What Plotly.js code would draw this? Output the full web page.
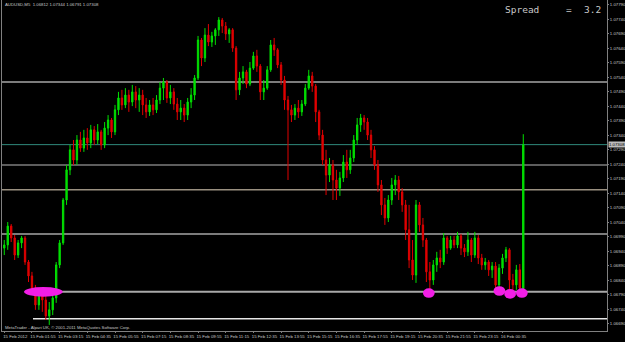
<!DOCTYPE html>
<html><head><meta charset="utf-8">
<script src="https://cdn.plot.ly/plotly-3.0.1.min.js"></script>
<style>html,body{margin:0;padding:0;background:#000;}#chart{width:625px;height:342px;}</style>
</head><body><div id="chart"></div>
<script>
// AUDUSD M5 (rendered as 10-minute steps), 15 Feb 2012 00:35 -> 16 Feb 2012 01:35
const open = [
1.06951,1.06962,1.07027,1.06986,1.06927,1.06969,1.06986,1.06903,1.06855,1.06813,
1.06755,1.06793,1.06772,1.06717,1.06738,1.06779,1.06893,1.06969,1.07117,1.07221,
1.07290,1.07255,1.07324,1.07296,1.07331,1.07314,1.07359,1.07324,1.07352,1.07307,
1.07365,1.07393,1.07352,1.07428,1.07469,1.07445,1.07479,1.07455,1.07490,1.07462,
1.07479,1.07445,1.07421,1.07445,1.07428,1.07462,1.07503,1.07524,1.07469,1.07490,
1.07448,1.07421,1.07434,1.07410,1.07455,1.07479,1.07538,1.07669,1.07607,1.07686,
1.07662,1.07683,1.07704,1.07738,1.07717,1.07690,1.07704,1.07641,1.07497,1.07538,
1.07559,1.07517,1.07572,1.07614,1.07579,1.07490,1.07503,1.07566,1.07652,1.07635,
1.07583,1.07531,1.07462,1.07428,1.07410,1.07434,1.07421,1.07448,1.07503,1.07545,
1.07510,1.07421,1.07341,1.07255,1.07203,1.07238,1.07186,1.07158,1.07193,1.07248,
1.07221,1.07262,1.07324,1.07376,1.07400,1.07386,1.07341,1.07290,1.07238,1.07169,
1.07100,1.07055,1.07117,1.07169,1.07186,1.07145,1.07100,1.07014,1.06910,1.06858,
1.07100,1.07031,1.06979,1.06869,1.06841,1.06893,1.06917,1.06903,1.06986,1.06951,
1.06979,1.06962,1.06993,1.06951,1.06938,1.06979,1.06927,1.06986,1.06917,1.06893,
1.06903,1.06876,1.06889,1.06824,1.06882,1.06917,1.06945,1.06841,1.06824,1.06876,
1.06812];
const high = [
1.06979,1.07041,1.07034,1.06996,1.06979,1.06993,1.06993,1.06910,1.06869,1.06824,
1.06807,1.06800,1.06786,1.06765,1.06789,1.06903,1.06979,1.07124,1.07238,1.07307,
1.07324,1.07341,1.07352,1.07359,1.07365,1.07376,1.07372,1.07379,1.07359,1.07386,
1.07410,1.07400,1.07445,1.07490,1.07497,1.07503,1.07497,1.07514,1.07510,1.07503,
1.07497,1.07469,1.07462,1.07469,1.07479,1.07524,1.07538,1.07531,1.07514,1.07503,
1.07469,1.07462,1.07448,1.07469,1.07503,1.07548,1.07683,1.07676,1.07710,1.07724,
1.07697,1.07710,1.07748,1.07745,1.07731,1.07710,1.07710,1.07648,1.07559,1.07579,
1.07566,1.07593,1.07628,1.07635,1.07586,1.07531,1.07579,1.07669,1.07676,1.07641,
1.07593,1.07545,1.07476,1.07445,1.07448,1.07462,1.07462,1.07517,1.07566,1.07559,
1.07517,1.07428,1.07359,1.07290,1.07262,1.07255,1.07221,1.07214,1.07272,1.07290,
1.07290,1.07341,1.07400,1.07414,1.07410,1.07400,1.07359,1.07303,1.07255,1.07186,
1.07124,1.07134,1.07193,1.07203,1.07200,1.07158,1.07117,1.07100,1.06979,1.07117,
1.07110,1.07055,1.06986,1.06903,1.06910,1.06938,1.06945,1.07003,1.06993,1.06993,
1.06993,1.07007,1.07000,1.06965,1.07007,1.06986,1.07007,1.06996,1.06931,1.06917,
1.06910,1.06903,1.06903,1.06896,1.06931,1.06955,1.06951,1.06862,1.06893,1.06896,
1.07344];
const low = [
1.06927,1.06945,1.06972,1.06910,1.06917,1.06951,1.06893,1.06834,1.06800,1.06738,
1.06738,1.06731,1.06703,1.06686,1.06720,1.06762,1.06882,1.06962,1.07100,1.07203,
1.07238,1.07238,1.07283,1.07283,1.07290,1.07296,1.07307,1.07310,1.07290,1.07296,
1.07341,1.07331,1.07341,1.07410,1.07428,1.07434,1.07421,1.07441,1.07434,1.07421,
1.07410,1.07400,1.07407,1.07410,1.07417,1.07448,1.07462,1.07452,1.07448,1.07428,
1.07393,1.07393,1.07386,1.07393,1.07434,1.07462,1.07531,1.07579,1.07593,1.07648,
1.07645,1.07652,1.07683,1.07693,1.07669,1.07659,1.07628,1.07462,1.07479,1.07517,
1.07503,1.07510,1.07566,1.07559,1.07462,1.07462,1.07497,1.07559,1.07614,1.07572,
1.07514,1.07428,1.07186,1.07386,1.07393,1.07400,1.07407,1.07441,1.07497,1.07490,
1.07386,1.07324,1.07238,1.07134,1.07179,1.07117,1.07117,1.07131,1.07179,1.07193,
1.07207,1.07248,1.07307,1.07352,1.07359,1.07324,1.07262,1.07221,1.07145,1.07065,
1.07031,1.07041,1.07100,1.07134,1.07117,1.07076,1.06979,1.06882,1.06841,1.06831,
1.07007,1.06955,1.06834,1.06800,1.06824,1.06869,1.06882,1.06893,1.06931,1.06945,
1.06951,1.06951,1.06927,1.06920,1.06924,1.06903,1.06917,1.06896,1.06876,1.06876,
1.06855,1.06848,1.06807,1.06807,1.06862,1.06903,1.06800,1.06789,1.06807,1.06800,
1.06791];
const close = [
1.06962,1.07027,1.06986,1.06927,1.06969,1.06986,1.06903,1.06855,1.06813,1.06755,
1.06793,1.06772,1.06717,1.06738,1.06779,1.06893,1.06969,1.07117,1.07221,1.07290,
1.07255,1.07324,1.07296,1.07331,1.07314,1.07359,1.07324,1.07352,1.07307,1.07365,
1.07393,1.07352,1.07428,1.07469,1.07445,1.07479,1.07455,1.07490,1.07462,1.07479,
1.07445,1.07421,1.07445,1.07428,1.07462,1.07503,1.07524,1.07469,1.07490,1.07448,
1.07421,1.07434,1.07410,1.07455,1.07479,1.07538,1.07669,1.07607,1.07686,1.07662,
1.07683,1.07704,1.07738,1.07717,1.07690,1.07704,1.07641,1.07497,1.07538,1.07559,
1.07517,1.07572,1.07614,1.07579,1.07490,1.07503,1.07566,1.07652,1.07635,1.07583,
1.07531,1.07462,1.07428,1.07410,1.07434,1.07421,1.07448,1.07503,1.07545,1.07510,
1.07421,1.07341,1.07255,1.07203,1.07238,1.07186,1.07158,1.07193,1.07248,1.07221,
1.07262,1.07324,1.07376,1.07400,1.07386,1.07341,1.07290,1.07238,1.07169,1.07100,
1.07055,1.07117,1.07169,1.07186,1.07145,1.07100,1.07014,1.06910,1.06858,1.07100,
1.07031,1.06979,1.06869,1.06841,1.06893,1.06917,1.06903,1.06986,1.06951,1.06979,
1.06962,1.06993,1.06951,1.06938,1.06979,1.06927,1.06986,1.06917,1.06893,1.06903,
1.06876,1.06889,1.06824,1.06882,1.06917,1.06945,1.06841,1.06824,1.06876,1.06813,
1.07308];

const tickIdx = [0,8,16,24,32,40,48,56,64,72,80,88,96,104,112,120,128,136,144];
const tickText = ['15 Feb 2012','15 Feb 01:55','15 Feb 03:15','15 Feb 04:35','15 Feb 05:55',
  '15 Feb 07:15','15 Feb 08:35','15 Feb 09:55','15 Feb 11:15','15 Feb 12:35','15 Feb 13:55',
  '15 Feb 15:15','15 Feb 16:35','15 Feb 17:55','15 Feb 19:15','15 Feb 20:35','15 Feb 21:55',
  '15 Feb 23:15','16 Feb 00:35'];

// user-drawn horizontal levels (price) and the bar where each starts (null = left edge)
const levelPrices   = [1.07524, 1.07238, 1.07152, 1.07000, 1.06800, 1.06707];
const levelStartIdx = [null, null, null, null, 7, 8.3];

// magenta highlight marks: bar index, price, half-width in bars
const markIdx   = [11.3, 122.7, 143.1, 146.2, 149.6];
const markPrice = [1.06800, 1.06796, 1.06803, 1.06793, 1.06796];
const markHalfW = [5.6, 1.7, 1.7, 1.7, 1.7];

const symbolTitle = 'AUDUSD,M5  1.06812 1.07344 1.06791 1.07308';
const spreadLabel = 'Spread', spreadEq = '=', spreadValue = '3.2';
const copyright = 'MetaTrader - Alpari UK, \u00a9 2001-2011 MetaQuotes Software Corp.';

// ---- styling / layout ----
const W = 625, H = 342, ML = 2, MR = 18, MT = 0, MB = 11;
const PW = W - ML - MR, PH = H - MT - MB;
const px = x => (x - ML) / PW;
const py = y => 1 - (y - MT) / PH;
const xRange = [-0.66, 174.2];
const yRange = [1.06665, 1.07807];
const levelColors = ['#7c7c7c', '#7c7c7c', '#9a9080', '#7c7c7c', '#a8a8a8', '#e6e6e6'];
const levelWidths = [2, 1.5, 1.5, 2, 2, 1.5];
const txtColor = '#c8c8c8';
const smallFont = {family: 'Liberation Sans, Arial, sans-serif', size: 4.3, color: txtColor};

const barIndex = close.map((_, i) => i);

const shapes = [];
levelPrices.forEach((p, i) => {
  shapes.push({type: 'line', xref: 'x', yref: 'y',
    x0: levelStartIdx[i] === null ? xRange[0] : levelStartIdx[i], x1: xRange[1],
    y0: p, y1: p, layer: 'below',
    line: {color: levelColors[i], width: levelWidths[i]}});
});
const lastClose = close[close.length - 1];
shapes.push({type: 'line', xref: 'x', yref: 'y', x0: xRange[0], x1: xRange[1],
  y0: lastClose, y1: lastClose, layer: 'below', line: {color: '#2f8a7c', width: 1}});
markIdx.forEach((k, i) => {
  const hy = 0.000165;
  shapes.push({type: 'circle', xref: 'x', yref: 'y',
    x0: k - markHalfW[i], x1: k + markHalfW[i], y0: markPrice[i] - hy, y1: markPrice[i] + hy,
    fillcolor: '#f21ee6', line: {width: 0}, layer: 'above'});
});

const annotations = [
  {xref: 'paper', yref: 'paper', x: px(3), y: py(5), xanchor: 'left', yanchor: 'middle',
   text: symbolTitle, showarrow: false, font: smallFont},
  {xref: 'paper', yref: 'paper', x: px(3), y: py(327), xanchor: 'left', yanchor: 'middle',
   text: copyright, showarrow: false, font: smallFont},
  {xref: 'paper', yref: 'paper', x: px(503), y: py(10), xanchor: 'left', yanchor: 'middle',
   text: spreadLabel, showarrow: false, font: {family: 'DejaVu Sans Mono, monospace', size: 9.5, color: txtColor}},
  {xref: 'paper', yref: 'paper', x: px(569), y: py(10), xanchor: 'center', yanchor: 'middle',
   text: spreadEq, showarrow: false, font: {family: 'DejaVu Sans Mono, monospace', size: 9.5, color: txtColor}},
  {xref: 'paper', yref: 'paper', x: px(603), y: py(10), xanchor: 'right', yanchor: 'middle',
   text: spreadValue, showarrow: false, font: {family: 'DejaVu Sans Mono, monospace', size: 9.5, color: txtColor}},
  {xref: 'paper', yref: 'y', x: 1, xshift: 1, y: lastClose, xanchor: 'left', yanchor: 'middle',
   text: lastClose.toFixed(5), showarrow: false, bgcolor: '#bdbdbd', borderpad: 0,
   font: {family: 'Liberation Sans, Arial, sans-serif', size: 4.3, color: '#000'}}
];

const trace = {
  type: 'candlestick', x: barIndex, open: open, high: high, low: low, close: close,
  increasing: {line: {color: '#00e000', width: 1}, fillcolor: '#00e000'},
  decreasing: {line: {color: '#e00000', width: 1}, fillcolor: '#e00000'},
  whiskerwidth: 0, hoverinfo: 'skip'
};

const layout = {
  width: W, height: H, margin: {l: ML, r: MR, t: MT, b: MB, pad: 0},
  paper_bgcolor: '#000', plot_bgcolor: '#000', showlegend: false, boxgap: 0.45,
  xaxis: {range: xRange, rangeslider: {visible: false}, showgrid: false, zeroline: false,
    tickmode: 'array', tickvals: tickIdx, ticktext: tickText, ticks: 'outside', ticklen: 1,
    tickangle: 0, tickcolor: '#808080', tickfont: smallFont, ticklabelshift: 11, ticklabelstandoff: 0,
    showline: true, linecolor: '#808080', linewidth: 1, mirror: true, fixedrange: true},
  yaxis: {range: yRange, side: 'right', showgrid: false, zeroline: false,
    tick0: 1.0779, dtick: 0.0005, tickformat: '.5f', ticks: 'outside', ticklen: 1,
    tickcolor: '#808080', tickfont: smallFont, ticklabelstandoff: 0,
    showline: true, linecolor: '#808080', linewidth: 1, mirror: true, fixedrange: true},
  shapes: shapes, annotations: annotations
};

Plotly.newPlot('chart', [trace], layout, {staticPlot: true, displayModeBar: false});
</script></body></html>
